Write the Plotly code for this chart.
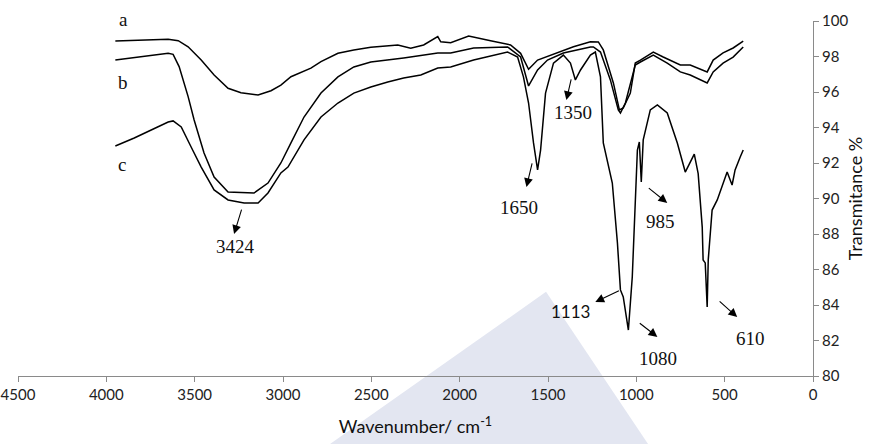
import plotly.graph_objects as go

# ---- data (axis units) ----
a_wn = [3949, 3746, 3650, 3593, 3537, 3463, 3390, 3311, 3238, 3141, 3068, 3012, 2955, 2842, 2785, 2689,
        2599, 2503, 2350, 2277, 2204, 2124, 2107, 2051, 1978, 1949, 1825, 1712, 1655, 1610, 1559, 1486,
        1356, 1260, 1215, 1187, 1130, 1096, 1074, 1034, 1006, 977, 904, 848, 751, 695, 599, 565, 509, 452, 395]
a_t = [98.87, 98.93, 98.97, 98.89, 98.55, 97.80, 96.96, 96.21, 95.96, 95.83, 96.07, 96.39, 96.86, 97.34, 97.71, 98.18,
       98.37, 98.52, 98.65, 98.46, 98.65, 99.12, 98.83, 98.78, 99.03, 99.15, 98.89, 98.65, 98.18, 97.28, 97.80, 98.08,
       98.55, 98.83, 98.82, 98.37, 96.51, 94.99, 95.10, 95.94, 97.63, 97.80, 98.25, 97.97, 97.52, 97.52, 97.13, 97.80,
       98.20, 98.48, 98.87]

b_wn = [3949, 3746, 3650, 3622, 3588, 3537, 3503, 3447, 3390, 3311, 3164, 3085, 3012, 2955, 2881, 2785, 2689,
        2599, 2503, 2317, 2204, 2124, 2051, 1921, 1729, 1655, 1610, 1559, 1503, 1413, 1260, 1243, 1203, 1147,
        1102, 1090, 1062, 1006, 977, 904, 825, 751, 695, 599, 565, 509, 452, 395]
b_t = [97.80, 98.08, 98.18, 98.12, 97.43, 95.74, 94.42, 92.56, 91.21, 90.37, 90.31, 90.87, 92.00, 93.13, 94.59, 95.94,
       96.85, 97.41, 97.69, 97.92, 98.08, 98.20, 98.20, 98.48, 98.54, 97.97, 96.34, 97.24, 97.80, 98.20, 98.54, 98.54,
       98.25, 96.68, 94.99, 94.82, 95.38, 97.52, 97.69, 98.08, 97.63, 97.13, 96.96, 96.51, 97.13, 97.63, 97.97, 98.54]

c_wn = [3949, 3842, 3746, 3650, 3622, 3576, 3520, 3463, 3390, 3311, 3220, 3141, 3085, 3012, 2972, 2881, 2785,
        2689, 2599, 2503, 2407, 2317, 2220, 2124, 2051, 1921, 1729, 1672, 1639, 1610, 1582, 1559, 1542, 1514,
        1469, 1413, 1373, 1345, 1316, 1260, 1232, 1203, 1187, 1136, 1107, 1090, 1074, 1062, 1045, 1023, 1006,
        994, 983, 972, 961, 921, 881, 825, 768, 723, 672, 650, 627, 622, 610, 599, 593, 571, 542, 509, 486,
        458, 441, 412, 395]
c_t = [92.96, 93.41, 93.86, 94.31, 94.37, 94.03, 92.90, 91.77, 90.48, 89.92, 89.75, 89.75, 90.31, 91.44, 91.77,
       93.30, 94.59, 95.38, 95.94, 96.28, 96.56, 96.79, 96.96, 97.35, 97.41, 97.80, 98.25, 97.97, 96.85, 95.38,
       93.13, 91.61, 92.73, 95.94, 97.63, 98.08, 97.63, 96.68, 97.24, 98.08, 98.25, 96.85, 93.13, 90.87, 87.49,
       84.85, 84.45, 83.72, 82.59, 85.58, 89.35, 92.73, 93.18, 90.93, 93.30, 94.99, 95.27, 94.82, 93.13, 91.49,
       92.50, 91.40, 88.39, 86.54, 86.37, 83.89, 86.54, 89.35, 89.92, 90.87, 91.49, 90.76, 91.61, 92.34, 92.73]

x_ticks = [4500, 4000, 3500, 3000, 2500, 2000, 1500, 1000, 500, 0]
y_ticks = [80, 82, 84, 86, 88, 90, 92, 94, 96, 98, 100]

curve_labels = ["a", "b", "c"]

# ---- figure ----
fig = go.Figure()
for wn, t, name in [(a_wn, a_t, "a"), (b_wn, b_t, "b"), (c_wn, c_t, "c")]:
    fig.add_trace(go.Scatter(x=wn, y=t, mode="lines", name=name,
                             line=dict(color="black", width=1.5), showlegend=False,
                             hoverinfo="skip"))

serif = dict(family="Liberation Serif", size=19, color="#111")
sans = dict(family="Lato", size=17, color="#111")

ann = []
# curve letters (paper y so the top one is not hidden above the axis range)
for lab, (x, yp) in zip(curve_labels, [(3904, 1.003), (3904, 0.8255), (3910, 0.5945)]):
    ann.append(dict(x=x, y=yp, text=lab, showarrow=False, font=serif, xref="x", yref="paper",
                    xanchor="center", yanchor="middle"))

# peak arrows: (label, tail_x, tail_y, tip_x, tip_y, text_x, text_y, font)
peaks = [
    ("3424", 3232, 89.46, 3277, 88.00, 3271, 87.27, serif),
    ("1650", 1588, 92.06, 1622, 90.65, 1667, 89.52, serif),
    ("1350", 1367, 96.79, 1396, 95.55, 1356, 94.82, serif),
    ("985", 938, 90.65, 825, 89.75, 864, 88.73, serif),
    ("1113", 1090, 84.85, 1232, 84.17, 1373, 83.61, sans),
    ("1080", 989, 83.04, 881, 82.20, 876, 81.01, serif),
    ("610", 537, 84.28, 429, 83.32, 356, 82.14, serif),
]
for lab, tx, ty, hx, hy, lx, ly, f in peaks:
    ann.append(dict(x=hx, y=hy, ax=tx, ay=ty, xref="x", yref="y", axref="x", ayref="y",
                    text="", showarrow=True, arrowhead=2, arrowsize=1.6, arrowwidth=1.1,
                    arrowcolor="black", standoff=0, startstandoff=0))
    ann.append(dict(x=lx, y=ly, text=lab, showarrow=False, font=f, xref="x", yref="y",
                    xanchor="center", yanchor="middle"))

# faint background watermark (decoration only)
shapes = [dict(type="path", xref="paper", yref="paper", layer="below",
               path="M 0.6642 0.237 L 0.3925 -0.1915 L 0.7925 -0.1915 Z",
               fillcolor="#e3e6f1", line=dict(width=0))]

axis_common = dict(showline=True, linecolor="#8a8a8a", linewidth=1, ticks="outside",
                   ticklen=5, tickcolor="#8a8a8a", showgrid=False, zeroline=False,
                   automargin=False, ticklabeloverflow="allow",
                   tickfont=dict(family="Lato", size=15, color="#222"))

fig.update_layout(
    width=885, height=444,
    margin=dict(l=18, r=72, t=21, b=68),
    plot_bgcolor="rgba(0,0,0,0)", paper_bgcolor="white",
    template="none",
    annotations=ann,
    shapes=shapes,
    xaxis=dict(range=[4500, 0], tickvals=x_ticks, ticktext=[str(v) for v in x_ticks],
               title=dict(text="Wavenumber/ cm<sup>-1</sup>", font=dict(family="Lato", size=18, color="#111"),
                          standoff=18),
               **axis_common),
    yaxis=dict(range=[80, 100], side="right", tickvals=y_ticks, ticktext=[str(v) for v in y_ticks],
               title=dict(text="Transmitance %", font=dict(family="Lato", size=18, color="#111"),
                          standoff=2),
               **axis_common),
)

fig.write_html("out.html")
